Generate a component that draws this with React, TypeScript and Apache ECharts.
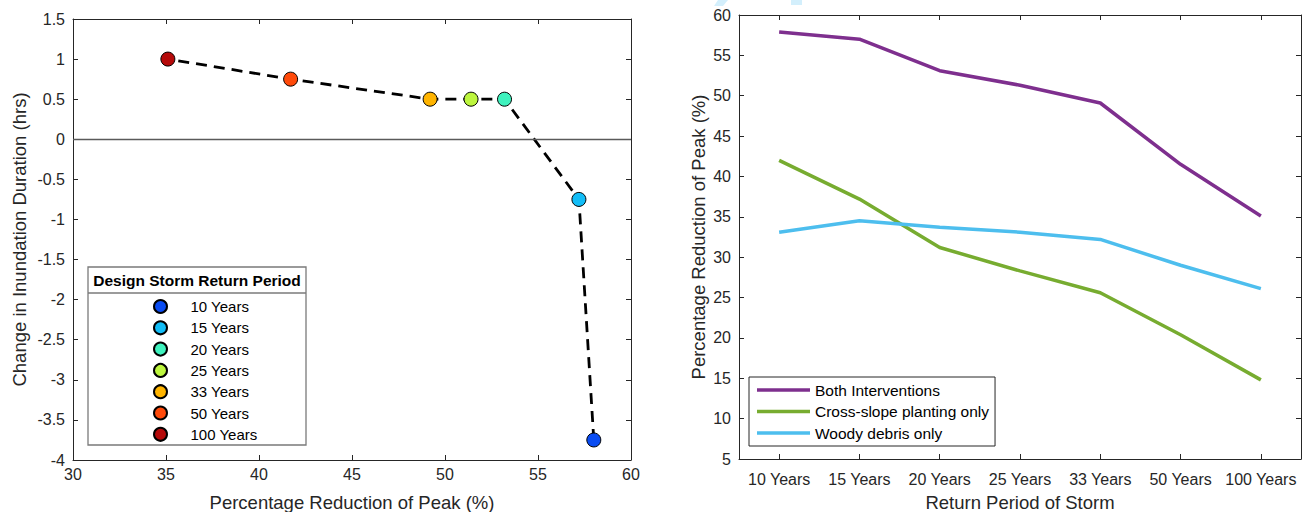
import React, { useEffect, useRef } from "react";
import * as echarts from "echarts";

const periods = ["10 Years", "15 Years", "20 Years", "25 Years", "33 Years", "50 Years", "100 Years"];
const periodColors = ["#0A4CF2", "#12BDF7", "#3FF2BE", "#BDF63E", "#FFB400", "#FF4A0A", "#B50A0A"];
const peakReduction = [58.0, 57.2, 53.2, 51.4, 49.2, 41.7, 35.1];
const durationChange = [-3.75, -0.75, 0.5, 0.5, 0.5, 0.75, 1.0];

const seriesNames = ["Both Interventions", "Cross-slope planting only", "Woody debris only"];
const seriesColors = ["#7E2F8E", "#77AC30", "#4DBEEE"];
const bothInterventions = [57.9, 57.0, 53.1, 51.3, 49.1, 41.5, 35.1];
const crossSlope = [42.0, 37.2, 31.2, 28.3, 25.6, 20.4, 14.8];
const woodyDebris = [33.1, 34.5, 33.7, 33.1, 32.2, 29.0, 26.1];
const rightValues = [bothInterventions, crossSlope, woodyDebris];

const FONT = "'Liberation Sans', Arial, Helvetica, sans-serif";
const AX = "#262626";

function axisCommon(showLabels: boolean) {
  return {
    axisLine: { show: true, onZero: false, lineStyle: { color: AX, width: 1 } },
    axisTick: { show: true, inside: true, length: 5, lineStyle: { color: AX, width: 1 } },
    axisLabel: showLabels
      ? { show: true, fontSize: 16, color: AX, fontFamily: FONT, showMinLabel: true, showMaxLabel: true }
      : { show: false },
    splitLine: { show: false },
    nameTextStyle: { fontSize: 18.5, color: AX, fontFamily: FONT },
  };
}

export default function App() {
  const ref = useRef<HTMLDivElement>(null);
  useEffect(() => {
    const chart = echarts.init(ref.current!, null, { renderer: "svg" });
    const option: any = {
      animation: false,
      backgroundColor: "#ffffff",
      textStyle: { fontFamily: FONT },
      grid: [
        { left: 73, top: 19, width: 558, height: 441, containLabel: false, outerBoundsMode: "none" },
        { left: 739, top: 15, width: 562, height: 444, containLabel: false, outerBoundsMode: "none" },
      ],
      xAxis: [
        {
          gridIndex: 0, type: "value", min: 30, max: 60, interval: 5, position: "bottom",
          ...axisCommon(true),
          axisLabel: { ...axisCommon(true).axisLabel, margin: 6 },
          name: "Percentage Reduction of Peak (%)", nameLocation: "middle", nameGap: 33,
        },
        { gridIndex: 0, type: "value", min: 30, max: 60, interval: 5, position: "top", ...axisCommon(false) },
        {
          gridIndex: 1, type: "category", data: periods, boundaryGap: true, position: "bottom",
          ...axisCommon(true),
          axisTick: { ...axisCommon(true).axisTick, alignWithLabel: true },
          axisLabel: { ...axisCommon(true).axisLabel, margin: 12, interval: 0 },
          name: "Return Period of Storm", nameLocation: "middle", nameGap: 34,
        },
        {
          gridIndex: 1, type: "category", data: periods, boundaryGap: true, position: "top",
          ...axisCommon(false),
          axisTick: { ...axisCommon(false).axisTick, alignWithLabel: true },
        },
      ],
      yAxis: [
        {
          gridIndex: 0, type: "value", min: -4, max: 1.5, interval: 0.5, position: "left",
          ...axisCommon(true),
          axisLabel: { ...axisCommon(true).axisLabel, margin: 8 },
          name: "Change in Inundation Duration (hrs)", nameLocation: "middle", nameGap: 44,
        },
        { gridIndex: 0, type: "value", min: -4, max: 1.5, interval: 0.5, position: "right", ...axisCommon(false) },
        {
          gridIndex: 1, type: "value", min: 5, max: 60, interval: 5, position: "left",
          ...axisCommon(true),
          axisLabel: { ...axisCommon(true).axisLabel, margin: 8 },
          name: "Percentage Reduction of Peak (%)", nameLocation: "middle", nameGap: 31,
        },
        { gridIndex: 1, type: "value", min: 5, max: 60, interval: 5, position: "right", ...axisCommon(false) },
      ],
      legend: [
        {
          data: periods.map((name) => ({ name, icon: "circle" })),
          orient: "vertical",
          left: 153,
          top: 299,
          padding: 0,
          itemWidth: 50,
          itemHeight: 13,
          itemGap: 6.3,
          selectedMode: false,
          textStyle: { fontSize: 15, color: "#000", lineHeight: 13, fontFamily: FONT },
          z: 10,
        },
        {
          data: seriesNames.map((name) => ({ name, icon: "rect" })),
          orient: "vertical",
          left: 749,
          top: 377,
          padding: [4, 6, 4, 8],
          itemWidth: 53,
          itemHeight: 3.5,
          itemGap: 3.5,
          selectedMode: false,
          backgroundColor: "#ffffff",
          borderColor: AX,
          borderWidth: 1,
          borderRadius: 0,
          textStyle: { fontSize: 15.5, color: "#000", lineHeight: 18, fontFamily: FONT },
          z: 10,
        },
      ],
      graphic: [
        {
          type: "rect",
          shape: { x: 88, y: 267, width: 218, height: 178 },
          style: { fill: "#ffffff", stroke: "#7a7a7a", lineWidth: 1.3 },
          z: 5,
        },
        {
          type: "line",
          shape: { x1: 88, y1: 293, x2: 306, y2: 293 },
          style: { stroke: "#7a7a7a", lineWidth: 1.3 },
          z: 6,
        },
        {
          type: "text",
          x: 197,
          y: 280,
          style: {
            text: "Design Storm Return Period",
            fontSize: 15.5,
            fontWeight: "bold",
            fontFamily: FONT,
            fill: "#000",
            textAlign: "center",
            textVerticalAlign: "middle",
          },
          z: 6,
        },
        {
          type: "polygon",
          shape: { points: [[718, 0], [728, 0], [723, 6], [714, 6]] },
          style: { fill: "#d3effc" },
        },
        {
          type: "rect",
          shape: { x: 791, y: 0, width: 11, height: 5 },
          style: { fill: "#d3effc" },
        },
      ],
      series: [
        {
          type: "line",
          name: "connector",
          xAxisIndex: 0,
          yAxisIndex: 0,
          data: peakReduction.map((x, i) => [x, durationChange[i]]),
          symbol: "none",
          lineStyle: { color: "#000", width: 2.8, type: [11, 7] },
          z: 2,
          silent: true,
          markLine: {
            silent: true,
            symbol: "none",
            label: { show: false },
            lineStyle: { color: "#5a5a5a", width: 1.3, type: "solid" },
            data: [{ yAxis: 0 }],
          },
        },
        ...periods.map((name, i) => ({
          type: "scatter",
          name,
          xAxisIndex: 0,
          yAxisIndex: 0,
          data: [[peakReduction[i], durationChange[i]]],
          symbol: "circle",
          symbolSize: 14,
          color: periodColors[i],
          itemStyle: { color: periodColors[i], borderColor: "#000", borderWidth: 1, opacity: 1 },
          z: 3,
        })),
        ...seriesNames.map((name, i) => ({
          type: "line",
          name,
          xAxisIndex: 2,
          yAxisIndex: 2,
          data: rightValues[i],
          symbol: "none",
          color: seriesColors[i],
          itemStyle: { color: seriesColors[i] },
          lineStyle: { color: seriesColors[i], width: 3.5 },
          z: 3,
        })),
      ],
    };
    chart.setOption(option);
    return () => chart.dispose();
  }, []);
  return (
    <div
      ref={ref}
      style={{ position: "fixed", left: 0, top: 0, width: 1312, height: 512, background: "#fff" }}
    />
  );
}
